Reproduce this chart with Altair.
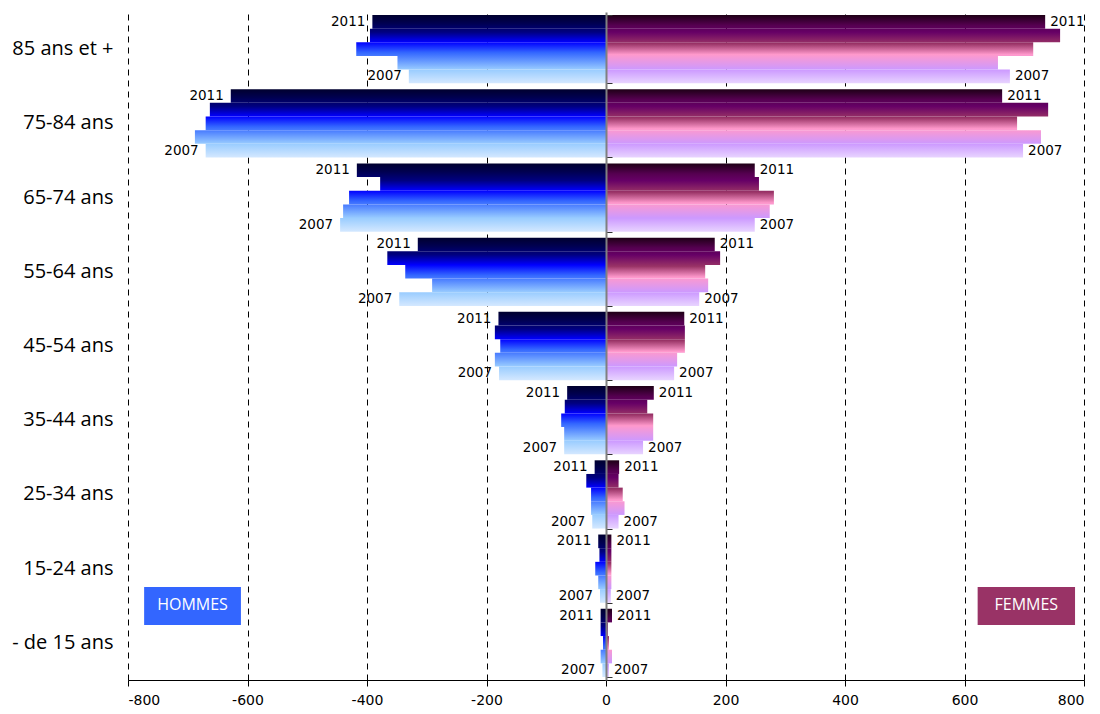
import altair as alt
import pandas as pd

# Age groups, top to bottom
ages = ["85 ans et +", "75-84 ans", "65-74 ans", "55-64 ans", "45-54 ans",
        "35-44 ans", "25-34 ans", "15-24 ans", "- de 15 ans"]
years = [2011, 2010, 2009, 2008, 2007]

# Men per year (same order as ages)
hommes = {
    2011: [391, 628, 417, 315, 180, 65, 19, 13, 9],
    2010: [395, 663, 378, 366, 186, 69, 33, 11, 9],
    2009: [418, 670, 430, 336, 177, 75, 25, 18, 5],
    2008: [349, 688, 440, 291, 186, 70, 25, 13, 9],
    2007: [330, 670, 445, 346, 179, 70, 23, 10, 6],
}
# Women per year (same order as ages)
femmes = {
    2011: [735, 663, 249, 182, 131, 80, 22, 9, 10],
    2010: [760, 740, 256, 191, 132, 69, 21, 9, 3],
    2009: [715, 688, 281, 166, 132, 79, 28, 9, 5],
    2008: [656, 728, 274, 171, 119, 79, 31, 9, 10],
    2007: [676, 698, 249, 156, 114, 62, 21, 8, 5],
}

rows = []
for yr in years:
    for age, h, f in zip(ages, hommes[yr], femmes[yr]):
        rows.append({"age": age, "annee": yr, "sexe": "H", "value": -h})
        rows.append({"age": age, "annee": yr, "sexe": "F", "value": f})
df = pd.DataFrame(rows)

# Vertical gradient spanning each whole age group (dark at top, pale at bottom)
men_stops = [(0.0, "#00002E"), (0.12, "#000050"), (0.25, "#000080"), (0.40, "#0000FF"),
             (0.55, "#3366FF"), (0.80, "#99CCFF"), (1.0, "#D4E8FF")]
women_stops = [(0.0, "#1E0016"), (0.15, "#550050"), (0.25, "#660066"), (0.42, "#993366"),
               (0.58, "#FF99CC"), (0.80, "#CC99FF"), (1.0, "#E8D4FF")]


def hex2rgb(h):
    return tuple(int(h[i:i + 2], 16) for i in (1, 3, 5))


def color_at(stops, p):
    for (o1, c1), (o2, c2) in zip(stops[:-1], stops[1:]):
        if o1 <= p <= o2:
            t = 0 if o2 == o1 else (p - o1) / (o2 - o1)
            a, b = hex2rgb(c1), hex2rgb(c2)
            return "#%02x%02x%02x" % tuple(round(x + (y - x) * t) for x, y in zip(a, b))
    return stops[-1][1]


def slice_gradient(stops, lo, hi):
    pts = [(0.0, color_at(stops, lo))]
    pts += [((o - lo) / (hi - lo), c) for o, c in stops if lo < o < hi]
    pts += [(1.0, color_at(stops, hi))]
    return alt.Gradient(gradient="linear", x1=0, x2=0, y1=0, y2=1,
                        stops=[alt.GradientStop(offset=o, color=c) for o, c in pts])


LABEL_FONT = "Open Sans"
NUM_FONT = "DejaVu Sans"

x_enc = alt.X("value:Q",
              scale=alt.Scale(domain=[-800, 800], nice=False, zero=False),
              axis=alt.Axis(values=list(range(-800, 801, 200)), title=None,
                            grid=True, gridColor="#000000", gridDash=[6, 5], gridWidth=1,
                            domainColor="#000000", tickColor="#000000", tickSize=6,
                            labelFont=NUM_FONT, labelFontSize=14, labelColor="#000000",
                            labelPadding=7, labelExpr="datum.value + ''"))

y_scale = alt.Scale(domain=ages, paddingInner=0.08, paddingOuter=0.04)
yoff_enc = alt.YOffset("annee:O",
                       scale=alt.Scale(domain=years, paddingInner=0, paddingOuter=0))

label_axis = alt.Axis(title=None, domain=False, ticks=False, tickSize=0, grid=False,
                      labelFont=LABEL_FONT, labelFontSize=20, labelColor="#000000",
                      labelPadding=15, minExtent=123, maxExtent=123)
zero_axis = alt.Axis(title=None, labels=False, grid=False, domain=True,
                     domainColor="#808080", domainWidth=2, ticks=True,
                     tickBand="extent", tickSize=6, tickColor="#333333",
                     offset=-478, zindex=1, minExtent=0, maxExtent=0)

layers = []
k = 0
for sexe, stops in (("H", men_stops), ("F", women_stops)):
    for i, yr in enumerate(years):
        if k == 0:
            ax = label_axis
        elif k == 1:
            ax = zero_axis
        else:
            ax = None
        y_enc = alt.Y("age:N", scale=y_scale, sort=ages, axis=ax)
        layers.append(
            alt.Chart(df)
            .transform_filter((alt.datum.sexe == sexe) & (alt.datum.annee == yr))
            .mark_bar(color=slice_gradient(stops, i / 5, (i + 1) / 5))
            .encode(x=x_enc, y=y_enc, yOffset=yoff_enc)
        )
        k += 1

# Year labels at the ends of the first and last bars of each group
y_plain = alt.Y("age:N", scale=y_scale, sort=ages, axis=None)
for sexe, align, dx in (("H", "right", -7), ("F", "left", 5)):
    layers.append(
        alt.Chart(df)
        .transform_filter((alt.datum.sexe == sexe) &
                          ((alt.datum.annee == 2011) | (alt.datum.annee == 2007)))
        .mark_text(align=align, baseline="middle", dx=dx, font=NUM_FONT,
                   fontSize=13.5, color="#000000")
        .encode(x=x_enc, y=y_plain, yOffset=yoff_enc, text="annee:O")
    )

# Sex badges
badge_scale = alt.Scale(domain=[-800, 800], nice=False, zero=False)
for name, x1, x2, fill in (("HOMMES", -773, -611, "#3366FF"), ("FEMMES", 622, 785, "#993366")):
    badge = alt.Chart(pd.DataFrame({"label": [name]}))
    layers.append(
        badge.mark_rect(color=fill).encode(
            x=alt.X(datum=x1, scale=badge_scale),
            x2=alt.X2(datum=x2), y=alt.value(575), y2=alt.value(613))
    )
    layers.append(
        badge.mark_text(color="#FFFFFF", font=LABEL_FONT, fontSize=16,
                        align="center", baseline="middle").encode(
            x=alt.X(datum=(x1 + x2) / 2, scale=badge_scale),
            y=alt.value(593), text="label:N")
    )

chart = (
    alt.layer(*layers)
    .resolve_axis(y="independent")
    .properties(width=956, height=668,
                padding={"left": 5, "top": 12, "right": 5, "bottom": 5},
                background="#FFFFFF")
    .configure_view(stroke=None)
)

chart.save("out.html", embed_options={"renderer": "svg", "actions": False})
